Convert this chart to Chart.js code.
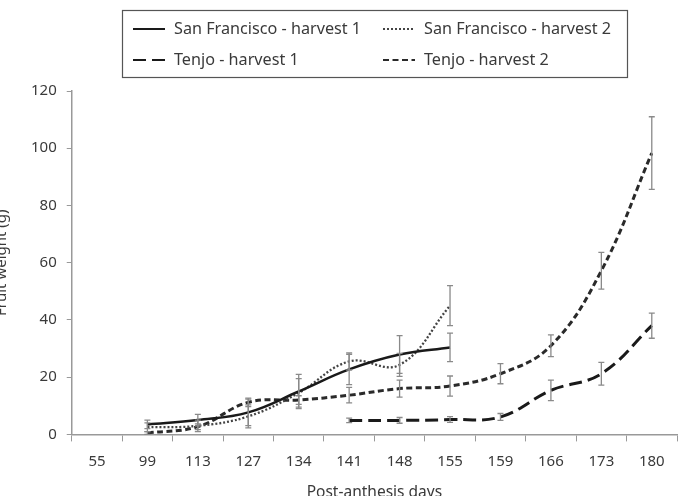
<!DOCTYPE html>
<html>
<head>
<meta charset="utf-8">
<script src="https://cdn.jsdelivr.net/npm/chart.js@4"></script>
<style>
  html, body { margin: 0; padding: 0; background: #fff; overflow: hidden; }
  #wrap { position: absolute; left: -7px; top: 0; width: 685px; height: 502px; }
</style>
</head>
<body>
<div id="wrap"><canvas id="graph"></canvas></div>
<script>
// Post-anthesis days (categories)
const days = ['55', '99', '113', '127', '134', '141', '148', '155', '159', '166', '173', '180'];

// Fruit weight (g), means and error half-widths
const sfHarvest1 = [null, 3.5, 5, 7.7, 15, 22.7, 27.9, 30.4, null, null, null, null];
const sfHarvest1Err = [null, 1.5, 2, 4.6, 6, 5.3, 6.6, 5, null, null, null, null];
const sfHarvest2 = [null, 2.5, 3, 6.3, 14.5, 25.5, 24.3, 45, null, null, null, null];
const sfHarvest2Err = [null, 1.5, 2, 4, 5, 3, 4, 7, null, null, null, null];
const tenjoHarvest1 = [null, null, null, null, null, 4.9, 4.9, 5.2, 6.1, 15.4, 21.2, 38];
const tenjoHarvest1Err = [null, null, null, null, null, 0.8, 1, 1, 1.2, 3.6, 4, 4.4];
const tenjoHarvest2 = [null, 0.5, 2.7, 11.2, 12, 13.7, 16, 16.9, 21.2, 31, 57.2, 98.3];
const tenjoHarvest2Err = [null, 0.5, 1, 1.5, 1.5, 2.7, 3, 3.5, 3.5, 3.8, 6.4, 12.7];

const FONT = 'Noto Sans';
const TEXT = '#3a3a3a';

// vertical error bars with caps, drawn through the chart scales
const errorBars = {
    id: 'errorBars',
    afterDatasetsDraw(chart) {
        const c = chart.ctx;
        const xs = chart.scales.x, ys = chart.scales.y;
        c.save();
        c.strokeStyle = '#8a8a8a';
        c.lineWidth = 1.3;
        chart.data.datasets.forEach(ds => {
            ds.data.forEach((v, i) => {
                const e = ds.errors[i];
                if (v == null || e == null) return;
                const x = xs.getPixelForValue(i);
                const top = ys.getPixelForValue(v + e);
                const bot = ys.getPixelForValue(v - e);
                c.beginPath();
                c.moveTo(x, top); c.lineTo(x, bot);
                c.moveTo(x - 3, top); c.lineTo(x + 3, top);
                c.moveTo(x - 3, bot); c.lineTo(x + 3, bot);
                c.stroke();
            });
        });
        c.restore();
    }
};

// boxed two-column legend at the top
const boxLegend = {
    id: 'boxLegend',
    afterDraw(chart) {
        const c = chart.ctx;
        const left = 129, top = 10, w = 505, h = 67;
        c.save();
        c.strokeStyle = '#555';
        c.lineWidth = 1.2;
        c.strokeRect(left + 0.5, top + 0.5, w, h);
        c.font = '16.2px "' + FONT + '"';
        c.fillStyle = TEXT;
        c.textBaseline = 'middle';
        chart.data.datasets.forEach((ds, i) => {
            const col = i % 2, row = Math.floor(i / 2);
            const x = left + 11 + col * 250;
            const y = top + 19 + row * 31;
            c.beginPath();
            c.strokeStyle = ds.borderColor;
            c.lineWidth = Math.min(ds.borderWidth, 2);
            c.setLineDash(ds.borderDash || []);
            c.moveTo(x, y); c.lineTo(x + 32, y);
            c.stroke();
            c.setLineDash([]);
            c.fillText(ds.label, x + 41, y);
        });
        c.restore();
    }
};

const ctx = document.getElementById('graph').getContext('2d');

const chart = new Chart(ctx, {
    type: 'line',
    data: {
        labels: days,
        datasets: [
            {
                label: 'San Francisco - harvest 1',
                data: sfHarvest1,
                errors: sfHarvest1Err,
                borderColor: '#1a1a1a',
                borderWidth: 2.5,
                tension: 0.4,
            },
            {
                label: 'San Francisco - harvest 2',
                data: sfHarvest2,
                errors: sfHarvest2Err,
                borderColor: '#444',
                borderWidth: 2.3,
                borderDash: [2, 2],
                tension: 0.4,
            },
            {
                label: 'Tenjo - harvest 1',
                data: tenjoHarvest1,
                errors: tenjoHarvest1Err,
                borderColor: '#1a1a1a',
                borderWidth: 3,
                borderDash: [13, 6],
                tension: 0.4,
            },
            {
                label: 'Tenjo - harvest 2',
                data: tenjoHarvest2,
                errors: tenjoHarvest2Err,
                borderColor: '#2a2a2a',
                borderWidth: 3,
                borderDash: [6, 3.5],
                tension: 0.4,
            },
        ],
    },
    options: {
        responsive: true,
        maintainAspectRatio: false,
        animation: false,
        layout: { padding: { top: 91, right: 1, left: 0, bottom: 0 } },
        elements: { point: { radius: 0 } },
        plugins: {
            legend: { display: false },
            tooltip: { enabled: false },
        },
        scales: {
            x: {
                offset: true,
                grid: { offset: true, drawOnChartArea: false, color: '#999', tickLength: 7 },
                border: { color: '#999', width: 1.5 },
                ticks: { color: TEXT, font: { family: FONT, size: 15 }, padding: 11, maxRotation: 0, autoSkip: false },
                title: {
                    display: true,
                    text: 'Post-anthesis days',
                    color: TEXT,
                    font: { family: FONT, size: 15.5 },
                    padding: { top: 2, bottom: 0 },
                },
            },
            y: {
                min: 0,
                max: 120,
                ticks: { stepSize: 20, color: TEXT, font: { family: FONT, size: 15 }, padding: 10 },
                grid: { drawOnChartArea: false, color: '#999', tickLength: 5 },
                border: { color: '#999', width: 1.5 },
                title: {
                    display: true,
                    text: 'Fruit weight (g)',
                    color: TEXT,
                    font: { family: FONT, size: 15 },
                    padding: { top: 0, bottom: 10 },
                },
            },
        },
    },
    plugins: [errorBars, boxLegend],
});
</script>
</body>
</html>
